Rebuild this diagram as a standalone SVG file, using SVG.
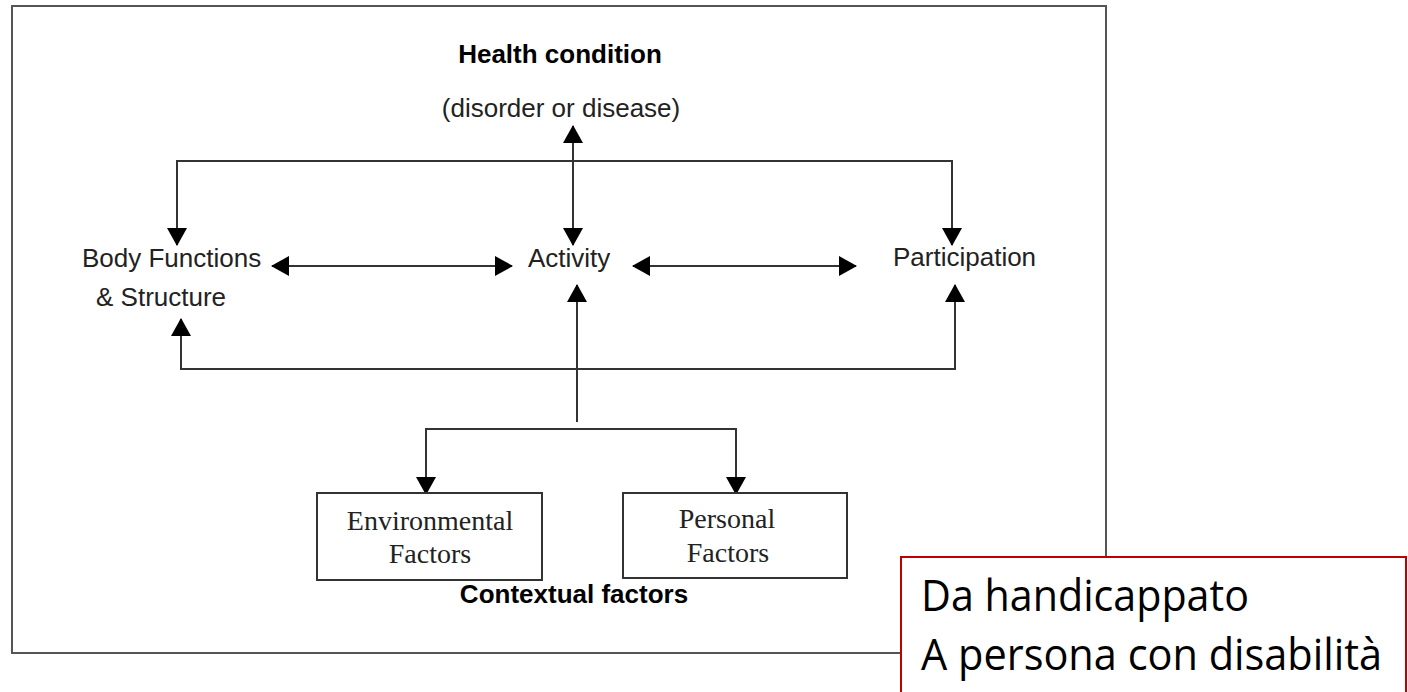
<svg xmlns="http://www.w3.org/2000/svg" width="1408" height="692" viewBox="0 0 1408 692">
<style>
.sans{font-family:"Liberation Sans",Arial,sans-serif;font-size:26px;fill:#222;}
.bold{font-weight:bold;fill:#000;}
.serif{font-family:"Liberation Serif","Times New Roman",serif;font-size:28px;fill:#222;}
.note{font-family:"Open Sans","Liberation Sans",sans-serif;font-size:43px;fill:#000;}
.conn{fill:none;stroke:#333;stroke-width:2;}
.box{fill:#fff;stroke:#333;stroke-width:2;}
</style>
<defs>
<marker id="ah" viewBox="0 0 18 20" markerUnits="userSpaceOnUse" markerWidth="18" markerHeight="20" refX="17" refY="10" orient="auto-start-reverse">
<path d="M0,0 L18,10 L0,20 z" fill="#000"/>
</marker>
</defs>
<rect id="frame" x="12" y="6" width="1094" height="647" fill="#fff" stroke="#555" stroke-width="2"/>
<g id="connectors">
<path class="conn" d="M177,245 V161 H952 V245" marker-start="url(#ah)" marker-end="url(#ah)"/>
<path class="conn" d="M573,126 V245" marker-start="url(#ah)" marker-end="url(#ah)"/>
<path class="conn" d="M272,266 H512" marker-start="url(#ah)" marker-end="url(#ah)"/>
<path class="conn" d="M633,266 H856" marker-start="url(#ah)" marker-end="url(#ah)"/>
<path class="conn" d="M181,319 V369 H955 V285" marker-start="url(#ah)" marker-end="url(#ah)"/>
<path class="conn" d="M577,422 V285" marker-end="url(#ah)"/>
<path class="conn" d="M426,494 V429 H736 V494" marker-start="url(#ah)" marker-end="url(#ah)"/>
</g>
<g id="health-condition">
<text class="sans bold" x="560" y="63" text-anchor="middle">Health condition</text>
<text class="sans" x="561" y="117" text-anchor="middle">(disorder or disease)</text>
</g>
<g id="body-functions">
<text class="sans" x="82" y="267">Body Functions</text>
<text class="sans" x="96" y="306">&amp; Structure</text>
</g>
<g id="activity">
<text class="sans" x="528" y="267">Activity</text>
</g>
<g id="participation">
<text class="sans" x="893" y="266">Participation</text>
</g>
<g id="environmental-factors">
<rect class="box" x="317" y="493" width="225" height="87"/>
<text class="serif" x="430" y="530" text-anchor="middle">Environmental</text>
<text class="serif" x="430" y="563" text-anchor="middle">Factors</text>
</g>
<g id="personal-factors">
<rect class="box" x="623" y="493" width="224" height="85"/>
<text class="serif" x="727" y="528" text-anchor="middle">Personal</text>
<text class="serif" x="728" y="562" text-anchor="middle">Factors</text>
</g>
<g id="contextual-factors">
<text class="sans bold" x="574" y="603" text-anchor="middle">Contextual factors</text>
</g>
<g id="note">
<rect x="901" y="557" width="505" height="140" fill="#fff" stroke="#C00000" stroke-width="2"/>
<text class="note" x="921" y="611" textLength="328" lengthAdjust="spacingAndGlyphs">Da handicappato</text>
<text class="note" x="921" y="670" textLength="461" lengthAdjust="spacingAndGlyphs">A persona con disabilità</text>
</g>
</svg>
